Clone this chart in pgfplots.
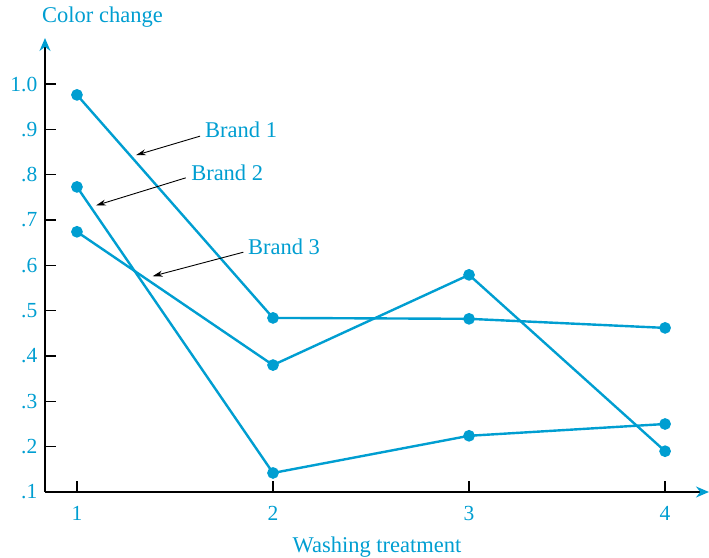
\documentclass[border=0pt]{standalone}
\usepackage{pgfplots}
\pgfplotsset{compat=1.18}
\usetikzlibrary{arrows.meta}
\usepackage{fontspec}
\setmainfont{Liberation Serif}
\definecolor{bc}{RGB}{0,158,209}
\begin{document}
\fontsize{22.5bp}{26bp}\selectfont
\begin{tikzpicture}
\begin{axis}[
  scale only axis, width=664bp, height=454bp,
  xmin=0.837, xmax=4.224, ymin=0.1, ymax=1.1015,
  axis lines=left,
  axis line style={line width=1.4bp, black, -{Stealth[length=13bp,width=11bp,color=bc]}},
  xtick={1,2,3,4}, xticklabels={1,2,3,4},
  ytick={0.1,0.2,0.3,0.4,0.5,0.6,0.7,0.8,0.9,1.0},
  yticklabels={.1,.2,.3,.4,.5,.6,.7,.8,.9,1.0},
  tick align=inside, major tick length=11bp,
  tick style={black, line width=1.2bp},
  ticklabel style={text=bc, font=\fontsize{21.5bp}{25bp}\selectfont},
  xticklabel style={yshift=-7bp},
  xlabel={Washing treatment},
  xlabel style={at={(rel axis cs:0.5,0)}, anchor=base, yshift=-60bp, inner sep=0pt, text=bc, font=\fontsize{22.5bp}{26bp}\selectfont},
  title={Color change},
  every axis title shift=0pt,
  title style={at={(rel axis cs:0,1)}, anchor=base west, xshift=-3bp, yshift=15.5bp, inner sep=0pt, text=bc, font=\fontsize{22.5bp}{26bp}\selectfont},
  clip=false,
]
\addplot[bc, line width=2.4bp, mark=*, mark size=4.6bp] coordinates {(1,0.976)(2,0.484)(3,0.482)(4,0.462)};
\addplot[bc, line width=2.4bp, mark=*, mark size=4.6bp] coordinates {(1,0.773)(2,0.142)(3,0.224)(4,0.250)};
\addplot[bc, line width=2.4bp, mark=*, mark size=4.6bp] coordinates {(1,0.674)(2,0.380)(3,0.579)(4,0.190)};
\draw[black, line width=0.9bp, -{Stealth[length=10bp,width=6bp]}] (axis cs:1.628,0.885) -- (axis cs:1.301,0.843);
\draw[black, line width=0.9bp, -{Stealth[length=10bp,width=6bp]}] (axis cs:1.555,0.793) -- (axis cs:1.097,0.732);
\draw[black, line width=0.9bp, -{Stealth[length=10bp,width=6bp]}] (axis cs:1.849,0.629) -- (axis cs:1.386,0.576);
\node[anchor=base west, text=bc, inner sep=0pt] at (axis cs:1.653,0.881) {Brand 1};
\node[anchor=base west, text=bc, inner sep=0pt] at (axis cs:1.582,0.788) {Brand 2};
\node[anchor=base west, text=bc, inner sep=0pt] at (axis cs:1.872,0.625) {Brand 3};
\end{axis}
\pgfresetboundingbox
\path[use as bounding box] ([shift={(-45bp,-66bp)}]current axis.south west) rectangle ([shift={(0bp,38bp)}]current axis.north east);
\end{tikzpicture}
\end{document}
